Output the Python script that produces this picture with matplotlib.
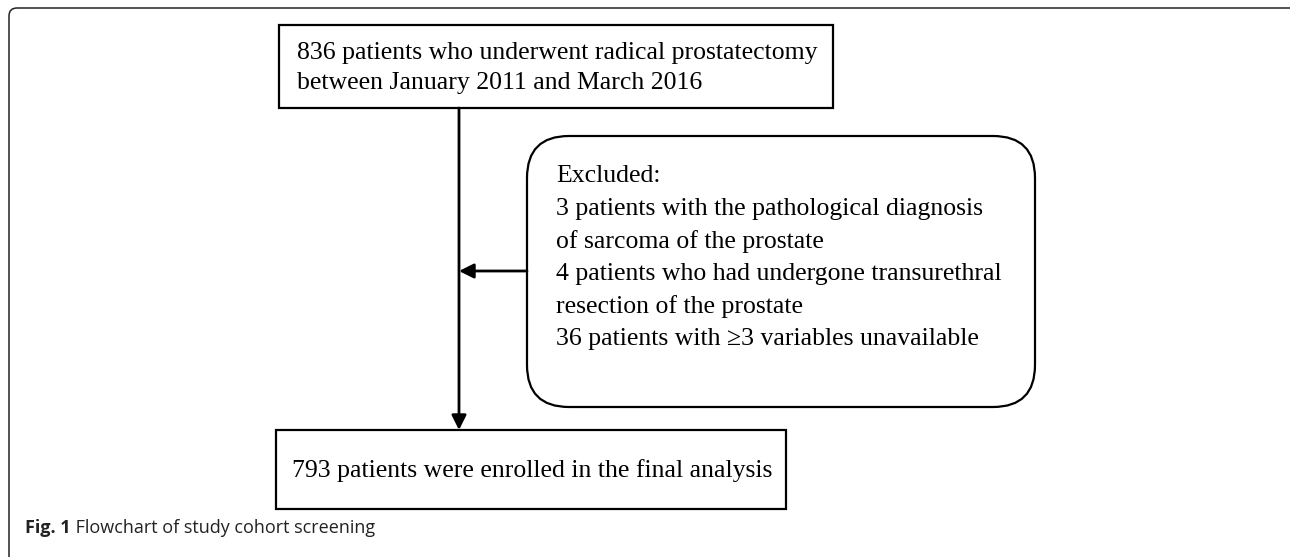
import matplotlib.pyplot as plt
from matplotlib.patches import Rectangle, FancyBboxPatch

# flowchart text
top_lines = ["836 patients who underwent radical prostatectomy",
             "between January 2011 and March 2016"]
excluded_lines = ["Excluded:",
                  "3 patients with the pathological diagnosis",
                  "of sarcoma of the prostate",
                  "4 patients who had undergone transurethral",
                  "resection of the prostate",
                  "36 patients with \u22653 variables unavailable"]
bottom_line = "793 patients were enrolled in the final analysis"
caption_bold = "Fig. 1"
caption_text = " Flowchart of study cohort screening"

serif = ['Liberation Serif', 'DejaVu Serif']
sans = ['Open Sans', 'DejaVu Sans']
fs = 18.5

fig = plt.figure(figsize=(12.9, 5.57), dpi=100)
ax = fig.add_axes([0, 0, 1, 1])
ax.set_xlim(0, 1290)
ax.set_ylim(557, 0)
ax.axis('off')

# outer frame (right and bottom run off the page)
frame = FancyBboxPatch((9, 8), 1290, 560, boxstyle="round,pad=0,rounding_size=8",
                       fill=False, ec='#222222', lw=1.1)
ax.add_patch(frame)

# top box
ax.add_patch(Rectangle((279, 25), 554, 83, fill=False, ec='black', lw=1.6))
for i, s in enumerate(top_lines):
    ax.text(297, 53 + i * 29.5, s, family=serif, fontsize=fs, va='center', ha='left')

# excluded box
ax.add_patch(FancyBboxPatch((527, 136), 508, 271, boxstyle="round,pad=0,rounding_size=42",
                            fill=False, ec='black', lw=1.6))
for i, s in enumerate(excluded_lines):
    ax.text(556, 176 + i * 32.6, s, family=serif, fontsize=fs, va='center', ha='left')

# bottom box
ax.add_patch(Rectangle((276, 430), 510, 79, fill=False, ec='black', lw=1.6))
ax.text(292, 471, bottom_line, family=serif, fontsize=fs, va='center', ha='left')

# arrows
arrow = dict(arrowstyle='-|>', color='black', lw=2.0, mutation_scale=22, shrinkA=0, shrinkB=0)
ax.annotate('', xy=(459, 430), xytext=(459, 108), arrowprops=arrow)
ax.annotate('', xy=(459, 271), xytext=(527, 271), arrowprops=arrow)

# caption
t1 = ax.text(25, 528, caption_bold, family=sans, fontsize=13,
             fontweight='bold', va='center', ha='left', color='#222222')
ax.annotate(caption_text, xy=(1, 0), xycoords=t1, va='bottom', ha='left',
            family=sans, fontsize=13, color='#222222')

fig.savefig('out.png', dpi=100)
